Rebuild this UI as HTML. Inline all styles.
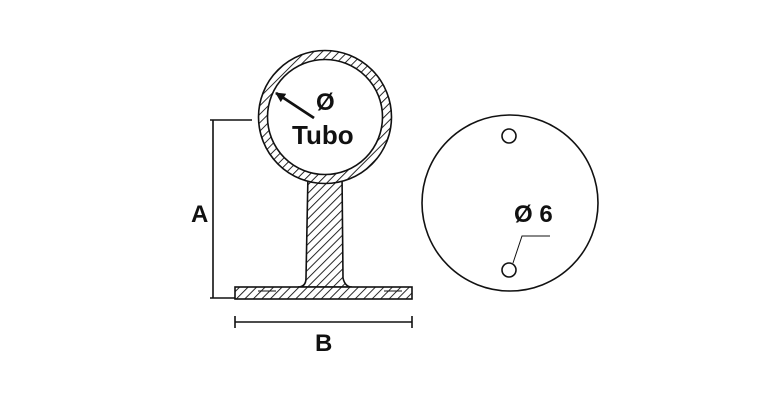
<!DOCTYPE html>
<html><head><style>body{margin:0;background:#fff}svg{display:block}</style></head><body>
<svg width="768" height="400" xmlns="http://www.w3.org/2000/svg">
<defs>
<pattern id="h" patternUnits="userSpaceOnUse" width="6" height="6" patternTransform="rotate(45)">
<rect width="6" height="6" fill="#fff"/><line x1="0" y1="0" x2="0" y2="6" stroke="#111" stroke-width="1.8"/>
</pattern>
<marker id="ar" markerWidth="10" markerHeight="10" refX="9" refY="5" orient="auto" markerUnits="userSpaceOnUse"><path d="M0,0 L10,5 L0,10 Z" fill="#111"/></marker>
</defs>
<g stroke="#111" stroke-width="1.6" fill="none">
<path d="M308,173 L342,173 L343,278 Q345,287 352,287 L298,287 Q306,287 306,278 Z" fill="url(#h)"/>
<rect x="235" y="287" width="177" height="12" fill="url(#h)"/>
<path d="M258,291 L276,291 M384,291 L402,291" stroke-width="1"/>
<circle cx="325" cy="117" r="62" stroke="url(#h)" stroke-width="9"/>
<circle cx="325" cy="117" r="66.5"/>
<circle cx="325" cy="117" r="57.5" fill="#fff"/>
<path d="M213,120 V298 M210,120 H252 M210,298 H235"/>
<path d="M235,322 H412 M235,316 V328 M412,316 V328"/>
<line x1="314" y1="118" x2="276" y2="93" stroke="#111" stroke-width="2.8" marker-end="url(#ar)"/>
<circle cx="510" cy="203" r="88"/>
<circle cx="509" cy="136" r="7"/>
<circle cx="509" cy="270" r="7"/>
<path d="M513,263 L522,236 H550" stroke-width="1"/>
</g>
<g font-family="Liberation Sans, sans-serif" font-weight="bold" fill="#111">
<text x="316" y="110" font-size="24">Ø</text>
<text x="292" y="144" font-size="26">Tubo</text>
<text x="191" y="222" font-size="24">A</text>
<text x="315" y="351" font-size="24">B</text>
<text x="514" y="222" font-size="24">Ø 6</text>
</g>
</svg>
</body></html>
